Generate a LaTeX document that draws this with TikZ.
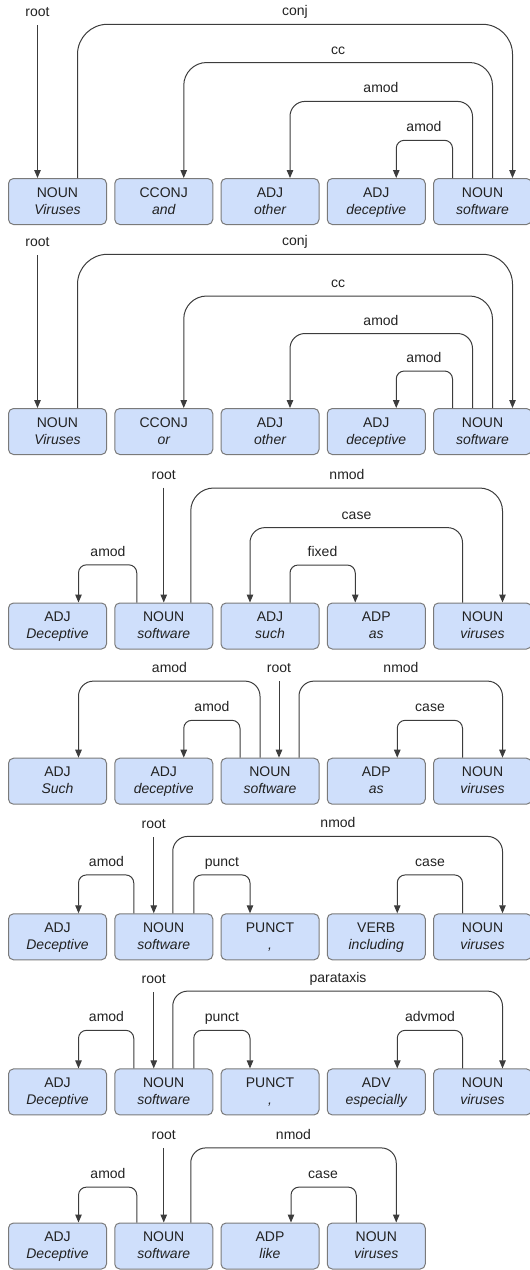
\documentclass[tikz,border=0pt]{standalone}
\usepackage{fontspec}
\setmainfont{Liberation Sans}
\usetikzlibrary{arrows.meta}
\definecolor{boxfill}{HTML}{CFDFFB}
\definecolor{boxline}{HTML}{7A7A7A}
\definecolor{linec}{HTML}{3C3C3C}
\definecolor{txtc}{HTML}{222222}
\tikzset{
  tokbox/.style={draw=boxline, fill=boxfill, rounded corners=5pt, minimum width=98pt, minimum height=46pt, line width=1pt, inner sep=0pt},
  postxt/.style={anchor=base, inner sep=0pt, text=txtc, font=\fontsize{14}{17}\selectfont},
  wordtxt/.style={anchor=base, inner sep=0pt, text=txtc, font=\fontsize{14}{17}\selectfont\itshape},
  dep/.style={draw=linec, line width=1pt, -{Triangle[length=8pt,width=6.5pt]}},
  lbl/.style={anchor=base, inner sep=0pt, yshift=8.5pt, text=txtc, font=\fontsize{14}{17}\selectfont}
}
\newcommand\tok[5]{%
  \node[tokbox] (#1) at (#2,#3+23) {};
  \node[postxt] (#1p) at ([yshift=-19.2pt]#1.north) {#4};
  \node[wordtxt] (#1w) at ([yshift=-36.1pt]#1.north) {#5};}
\newcommand\darc[8]{%
  \draw[dep, rounded corners=#7pt] ([xshift=#2pt]#1.north) |- (#5,#6) node[lbl]{#8} -| ([xshift=#4pt]#3.north);}
\newcommand\droot[4]{%
  \coordinate (#1) at (#2,#3);
  \draw[dep] (#1) node[lbl]{root} -- (#1 |- #4.north);}
\begin{document}
\begin{tikzpicture}[x=1pt,y=-1pt]
\useasboundingbox (0,0) rectangle (530,1270);
% ---------- Row 1
\tok{a1}{57.5}{178.5}{NOUN}{Viruses}
\tok{a2}{163.75}{178.5}{CCONJ}{and}
\tok{a3}{270}{178.5}{ADJ}{other}
\tok{a4}{376.25}{178.5}{ADJ}{deceptive}
\tok{a5}{482.5}{178.5}{NOUN}{software}
\droot{ra}{37.5}{25.4}{a1}
\darc{a1}{20}{a5}{30}{295}{24.3}{30}{conj}
\darc{a5}{10}{a2}{20}{338}{62.5}{23}{cc}
\darc{a5}{-10}{a3}{20}{381}{101.4}{15}{amod}
\darc{a5}{-30}{a4}{20}{424}{140.3}{8}{amod}
% ---------- Row 2
\tok{b1}{57.5}{408.5}{NOUN}{Viruses}
\tok{b2}{163.75}{408.5}{CCONJ}{or}
\tok{b3}{270}{408.5}{ADJ}{other}
\tok{b4}{376.25}{408.5}{ADJ}{deceptive}
\tok{b5}{482.5}{408.5}{NOUN}{software}
\droot{rb}{37.5}{255.4}{b1}
\darc{b1}{20}{b5}{30}{295}{254.3}{30}{conj}
\darc{b5}{10}{b2}{20}{338}{296}{23}{cc}
\darc{b5}{-10}{b3}{20}{381}{333.5}{15}{amod}
\darc{b5}{-30}{b4}{20}{424}{371}{8}{amod}
% ---------- Row 3
\tok{c1}{57.5}{603}{ADJ}{Deceptive}
\tok{c2}{163.75}{603}{NOUN}{software}
\tok{c3}{270}{603}{ADJ}{such}
\tok{c4}{376.25}{603}{ADP}{as}
\tok{c5}{482.5}{603}{NOUN}{viruses}
\droot{rc}{163.75}{487.5}{c2}
\darc{c2}{-27}{c1}{21}{108}{564.8}{8}{amod}
\darc{c2}{27}{c5}{20}{347}{488}{23}{nmod}
\darc{c5}{-20}{c3}{-20}{356.5}{527.6}{15}{case}
\darc{c3}{20}{c4}{-21}{322.5}{565}{8}{fixed}
% ---------- Row 4
\tok{d1}{57.5}{758.2}{ADJ}{Such}
\tok{d2}{163.75}{758.2}{ADJ}{deceptive}
\tok{d3}{270}{758.2}{NOUN}{software}
\tok{d4}{376.25}{758.2}{ADP}{as}
\tok{d5}{482.5}{758.2}{NOUN}{viruses}
\darc{d3}{-10}{d1}{21}{169.5}{681.1}{15}{amod}
\darc{d3}{-30}{d2}{20}{212}{720.3}{8}{amod}
\droot{rd}{279}{681.1}{d3}
\darc{d3}{29}{d5}{20}{401}{681.1}{15}{nmod}
\darc{d5}{-20}{d4}{21}{430}{720.3}{8}{case}
% ---------- Row 5
\tok{e1}{57.5}{913.8}{ADJ}{Deceptive}
\tok{e2}{163.75}{913.8}{NOUN}{software}
\tok{e3}{270}{913.8}{PUNCT}{,}
\tok{e4}{376.25}{913.8}{VERB}{including}
\tok{e5}{482.5}{913.8}{NOUN}{viruses}
\darc{e2}{-30}{e1}{21}{106.5}{874.9}{8}{amod}
\droot{re}{153.75}{837}{e2}
\darc{e2}{9}{e5}{20}{338}{836.4}{15}{nmod}
\darc{e2}{30}{e3}{-20}{222}{874.9}{8}{punct}
\darc{e5}{-20}{e4}{21}{430}{874.9}{8}{case}
% ---------- Row 6
\tok{f1}{57.5}{1068.9}{ADJ}{Deceptive}
\tok{f2}{163.75}{1068.9}{NOUN}{software}
\tok{f3}{270}{1068.9}{PUNCT}{,}
\tok{f4}{376.25}{1068.9}{ADV}{especially}
\tok{f5}{482.5}{1068.9}{NOUN}{viruses}
\darc{f2}{-30}{f1}{21}{106.5}{1030.3}{8}{amod}
\droot{rf}{153.75}{992.1}{f2}
\darc{f2}{9}{f5}{20}{338}{991.1}{15}{parataxis}
\darc{f2}{30}{f3}{-20}{222}{1030.3}{8}{punct}
\darc{f5}{-20}{f4}{21}{430}{1030.3}{8}{advmod}
% ---------- Row 7
\tok{g1}{57.5}{1223}{ADJ}{Deceptive}
\tok{g2}{163.75}{1223}{NOUN}{software}
\tok{g3}{270}{1223}{ADP}{like}
\tok{g4}{376.25}{1223}{NOUN}{viruses}
\droot{rg}{163.75}{1147.9}{g2}
\darc{g2}{-27}{g1}{21}{108}{1187.1}{8}{amod}
\darc{g2}{27}{g4}{20}{293.5}{1147.9}{15}{nmod}
\darc{g4}{-20}{g3}{21}{323}{1187.1}{8}{case}
\end{tikzpicture}
\end{document}
